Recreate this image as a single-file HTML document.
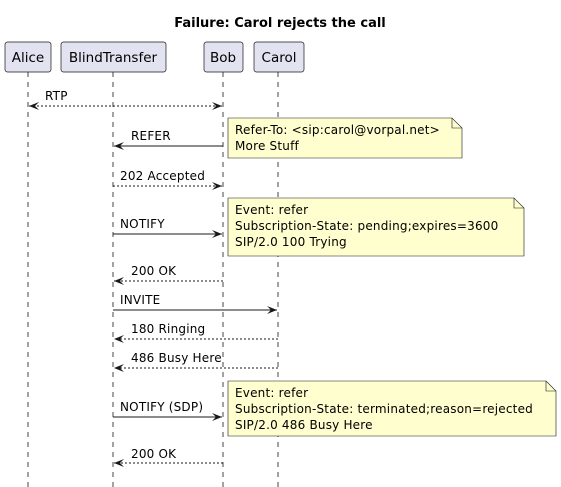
<!DOCTYPE html>
<html><head><meta charset="utf-8"><style>html,body{margin:0;padding:0;background:#fff}svg{display:block}text{font-family:"DejaVu Sans","Liberation Sans",sans-serif;font-size:12px;fill:#000;letter-spacing:0.2px}</style></head><body>
<svg width="561" height="487" viewBox="0 0 561 487" xmlns="http://www.w3.org/2000/svg">
<defs>
<marker id="a" viewBox="0 0 10 10" refX="10" refY="5" markerWidth="10" markerHeight="10" orient="auto-start-reverse" markerUnits="userSpaceOnUse"><path d="M0,1 L10,5 L0,9 L4,5 Z" fill="#181818"/></marker>
</defs>
<text x="280" y="27" text-anchor="middle" style="font-weight:bold;font-size:13px;letter-spacing:0">Failure: Carol rejects the call</text>
<g stroke="#181818" stroke-dasharray="5,5" stroke-width="0.8">
<line x1="28" y1="72" x2="28" y2="487"/><line x1="113" y1="72" x2="113" y2="487"/><line x1="223" y1="72" x2="223" y2="487"/><line x1="278" y1="72" x2="278" y2="487"/>
</g>
<g fill="#e2e2f0" stroke="#181818" stroke-width="0.7">
<rect x="5" y="42" width="46" height="30" rx="2.5"/><rect x="61" y="42" width="105" height="30" rx="2.5"/><rect x="204" y="42" width="39" height="30" rx="2.5"/><rect x="254" y="42" width="50" height="30" rx="2.5"/>
</g>
<text x="28" y="62" text-anchor="middle" style="font-size:13.5px;letter-spacing:0">Alice</text><text x="113" y="62" text-anchor="middle" style="font-size:13.5px;letter-spacing:0">BlindTransfer</text><text x="223" y="62" text-anchor="middle" style="font-size:13.5px;letter-spacing:0">Bob</text><text x="279" y="62" text-anchor="middle" style="font-size:13.5px;letter-spacing:0">Carol</text>
<g stroke="#181818" stroke-width="1" fill="none">
<line x1="29" y1="106" x2="222" y2="106" stroke-dasharray="2,2" marker-start="url(#a)" marker-end="url(#a)"/>
<line x1="223" y1="146" x2="114" y2="146" marker-end="url(#a)"/>
<line x1="113" y1="186" x2="222" y2="186" stroke-dasharray="2,2" marker-end="url(#a)"/>
<line x1="113" y1="234" x2="222" y2="234" marker-end="url(#a)"/>
<line x1="223" y1="281" x2="114" y2="281" stroke-dasharray="2,2" marker-end="url(#a)"/>
<line x1="113" y1="310" x2="277" y2="310" marker-end="url(#a)"/>
<line x1="278" y1="339" x2="114" y2="339" stroke-dasharray="2,2" marker-end="url(#a)"/>
<line x1="278" y1="368" x2="114" y2="368" stroke-dasharray="2,2" marker-end="url(#a)"/>
<line x1="113" y1="417" x2="222" y2="417" marker-end="url(#a)"/>
<line x1="223" y1="463" x2="114" y2="463" stroke-dasharray="2,2" marker-end="url(#a)"/>
</g>
<text x="45" y="100">RTP</text>
<text x="131" y="140">REFER</text>
<text x="120" y="180">202 Accepted</text>
<text x="120" y="228">NOTIFY</text>
<text x="131" y="275">200 OK</text>
<text x="120" y="304">INVITE</text>
<text x="131" y="333">180 Ringing</text>
<text x="131" y="362">486 Busy Here</text>
<text x="120" y="411">NOTIFY (SDP)</text>
<text x="131" y="458">200 OK</text>
<g fill="#fefece" stroke="#181818" stroke-width="0.6">
<path d="M228,118 H452 L462,128 V158 H228 Z"/><path d="M452,118 V128 H462" fill="none"/>
<path d="M228,198 H514 L524,208 V256 H228 Z"/><path d="M514,198 V208 H524" fill="none"/>
<path d="M228,381 H546 L556,391 V436 H228 Z"/><path d="M546,381 V391 H556" fill="none"/>
</g>
<text x="235" y="134">Refer-To: &lt;sip:carol@vorpal.net&gt;</text>
<text x="235" y="150">More Stuff</text>
<text x="235" y="214">Event: refer</text>
<text x="235" y="230">Subscription-State: pending;expires=3600</text>
<text x="235" y="246">SIP/2.0 100 Trying</text>
<text x="235" y="397">Event: refer</text>
<text x="235" y="413">Subscription-State: terminated;reason=rejected</text>
<text x="235" y="429">SIP/2.0 486 Busy Here</text>
</svg>
</body></html>
